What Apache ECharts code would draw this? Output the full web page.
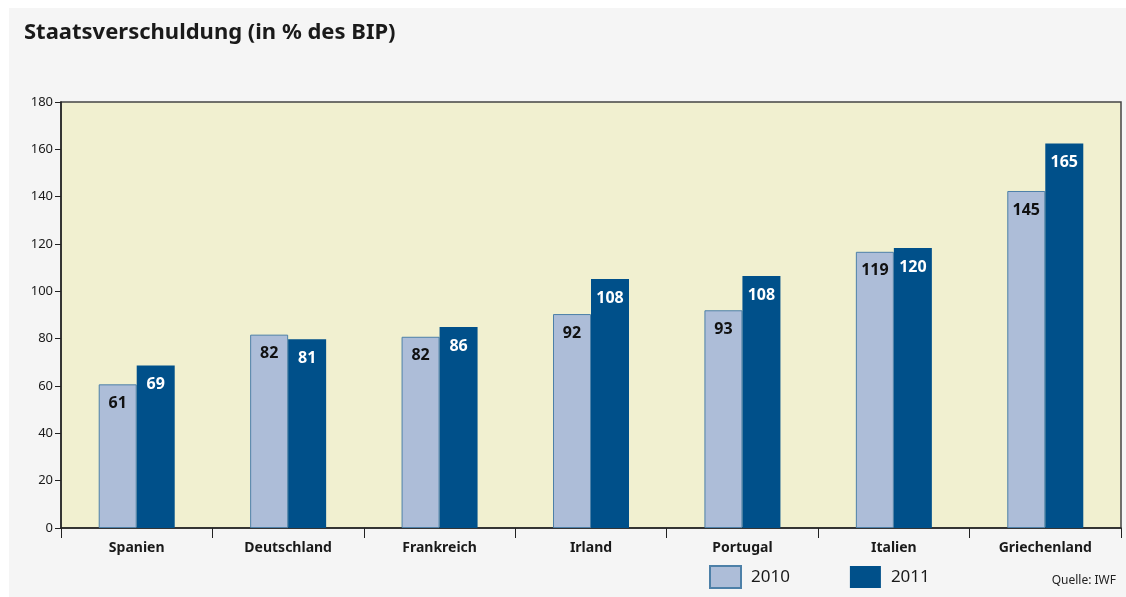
<!DOCTYPE html>
<html>
<head>
<meta charset="utf-8">
<script src="https://cdn.jsdelivr.net/npm/echarts@6/dist/echarts.min.js"></script>
<style>
  html, body { margin: 0; padding: 0; background: #fff; }
  #main { width: 1126px; height: 597px; }
</style>
</head>
<body>
<div id="main"></div>
<script>
// Länder und Werte (Balkenhöhe wie im Bild, Beschriftung wie gedruckt)
var laender = ['Spanien', 'Deutschland', 'Frankreich', 'Irland', 'Portugal', 'Italien', 'Griechenland'];
var werte2010 = [60.7, 81.7, 80.8, 90.4, 92, 116.7, 142.4];
var werte2011 = [68.7, 79.8, 84.9, 105.2, 106.5, 118.3, 162.5];
var label2010 = [61, 82, 82, 92, 93, 119, 145];
var label2011 = [69, 81, 86, 108, 108, 120, 165];

var schrift = '"Noto Sans", "Open Sans", sans-serif';

var myChart = echarts.init(document.getElementById('main'));
myChart.setOption({
    backgroundColor: '#fff',
    animation: false,
    textStyle: { fontFamily: schrift },
    graphic: [
        { type: 'rect', z: -10, shape: { x: 9, y: 8, width: 1117, height: 589 }, style: { fill: '#f5f5f5' } },
        { type: 'text', left: 24, top: 22, style: { text: 'Staatsverschuldung (in % des BIP)', font: 'bold 22px ' + schrift, fill: '#1a1a1a' } },
        { type: 'text', right: 10, top: 575, style: { text: 'Quelle: IWF', font: '12px ' + schrift, fill: '#222' } }
    ],
    grid: {
        left: 61, right: 5, top: 102, bottom: 69,
        show: true, backgroundColor: '#f1f0d0', borderColor: '#444', borderWidth: 1.5
    },
    legend: {
        left: 709, top: 565, padding: 0,
        icon: 'rect',
        itemWidth: 31, itemHeight: 22, itemGap: 60,
        textStyle: { fontSize: 17, color: '#1a1a1a', padding: [0, 0, 0, 5] },
        data: ['2010', '2011']
    },
    xAxis: {
        type: 'category',
        data: laender,
        axisLine: { lineStyle: { color: '#222', width: 1.5 } },
        axisTick: { show: true, inside: false, length: 10, lineStyle: { color: '#222' } },
        axisLabel: { color: '#1a1a1a', fontSize: 14, fontWeight: 'bold', margin: 13 }
    },
    yAxis: {
        type: 'value',
        min: 0, max: 180, interval: 20,
        splitLine: { show: false },
        axisLine: { show: true, lineStyle: { color: '#222', width: 1.5 } },
        axisTick: { show: true, length: 6, lineStyle: { color: '#222' } },
        axisLabel: { color: '#1a1a1a', fontSize: 13, margin: 8 }
    },
    series: [
        {
            name: '2010', type: 'bar', barWidth: 38, barGap: '0%',
            data: werte2010,
            itemStyle: { color: '#adbdd8', borderColor: '#4d80a8', borderWidth: 1 },
            label: {
                show: true, position: 'insideTop', distance: 11,
                color: '#111', fontSize: 16, fontWeight: 'bold',
                formatter: function (p) { return label2010[p.dataIndex]; }
            }
        },
        {
            name: '2011', type: 'bar', barWidth: 38,
            data: werte2011,
            itemStyle: { color: '#00508a' },
            label: {
                show: true, position: 'insideTop', distance: 11,
                color: '#fff', fontSize: 16, fontWeight: 'bold',
                formatter: function (p) { return label2011[p.dataIndex]; }
            }
        }
    ]
});
</script>
</body>
</html>
